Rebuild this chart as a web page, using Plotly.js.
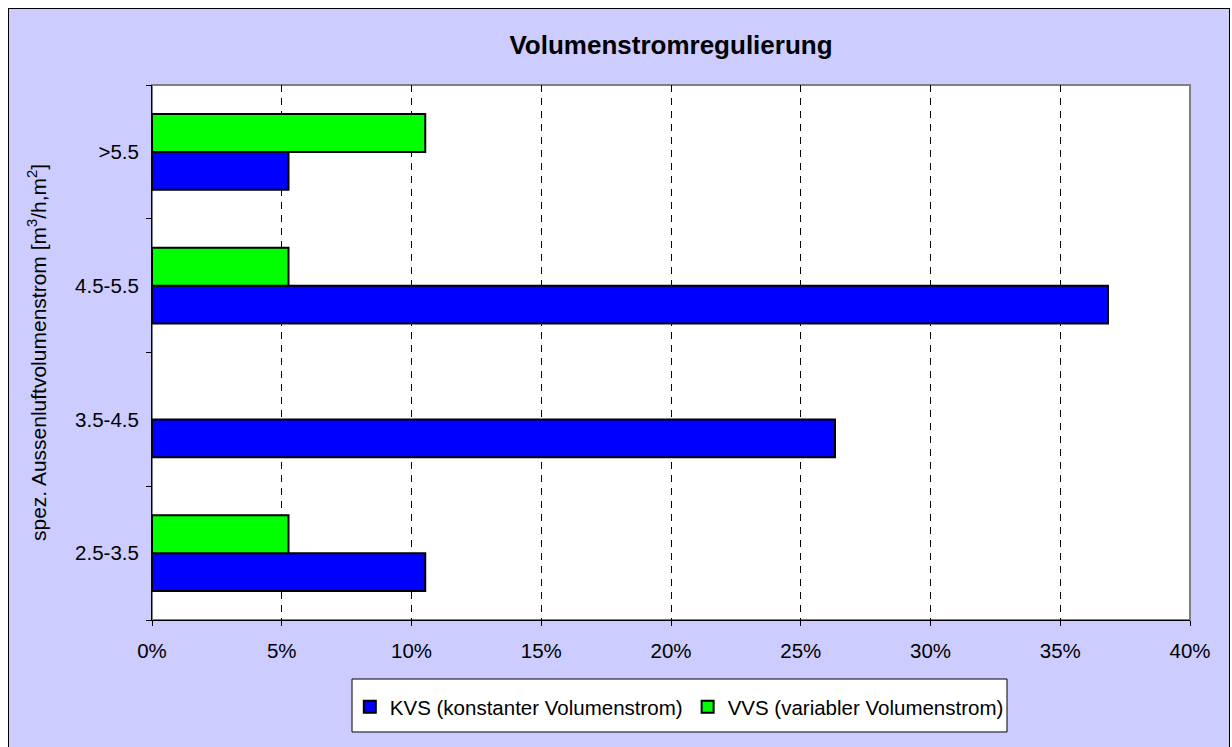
<!DOCTYPE html>
<html>
<head>
<meta charset="utf-8">
<script src="https://cdn.plot.ly/plotly-3.0.1.min.js"></script>
<style>
  html, body { margin: 0; padding: 0; background: #ffffff; overflow: hidden; }
  #frame { position: absolute; left: 8px; top: 8px; width: 1220px; height: 739px;
           border-left: 1px solid #000; border-right: 1px solid #000; border-top: 1px solid #000;
           background: #CCCCFF; }
  #chart { width: 1220px; height: 739px; }
</style>
</head>
<body>
<div id="frame"><div id="chart"></div></div>
<script>
// Data (fractions)
const categories = ['2.5-3.5', '3.5-4.5', '4.5-5.5', '>5.5'];
const kvsValues = [0.1053, 0.2632, 0.3684, 0.0526];
const vvsValues = [0.0526, null, 0.0526, 0.1053];
const xTickValues = [0, 0.05, 0.10, 0.15, 0.20, 0.25, 0.30, 0.35, 0.40];
const xTickLabels = ['0%', '5%', '10%', '15%', '20%', '25%', '30%', '35%', '40%'];
const seriesNames = ['KVS (konstanter Volumenstrom)', 'VVS (variabler Volumenstrom)'];

const FONT = 'Liberation Sans, Arial, sans-serif';
const FS = 20.5;

const traces = [
  {
    type: 'bar', orientation: 'h', name: seriesNames[0],
    y: categories, x: kvsValues,
    marker: { color: '#0000FF', line: { color: '#000000', width: 2 } },
    hoverinfo: 'x+y'
  },
  {
    type: 'bar', orientation: 'h', name: seriesNames[1],
    y: categories, x: vvsValues,
    marker: { color: '#00FF00', line: { color: '#000000', width: 2 } },
    hoverinfo: 'x+y'
  }
];

const layout = {
  width: 1220, height: 739,
  margin: { l: 143, r: 39, t: 76, b: 128 },
  paper_bgcolor: '#CCCCFF',
  plot_bgcolor: '#FFFFFF',
  font: { family: FONT, size: FS, color: '#000000' },
  title: {
    text: '<b>Volumenstromregulierung</b>',
    font: { family: FONT, size: 26, color: '#000000' },
    x: 0.5, xanchor: 'center', xref: 'paper',
    y: 0.952, yanchor: 'middle', yref: 'container'
  },
  barmode: 'group',
  bargap: 0.433,
  bargroupgap: 0,
  xaxis: {
    range: [0, 0.40],
    tickvals: xTickValues, ticktext: xTickLabels,
    showgrid: true, gridcolor: '#000000', gridwidth: 1, griddash: '7px,6px',
    zeroline: false,
    showline: true, linecolor: '#000000', linewidth: 1,
    ticks: 'outside', ticklen: 5, tickcolor: '#000000', tickwidth: 1,
    ticklabelstandoff: 7,
    tickfont: { family: FONT, size: FS, color: '#000000' },
    fixedrange: true
  },
  yaxis: {
    type: 'category',
    categoryorder: 'array', categoryarray: categories,
    showgrid: false, zeroline: false,
    showline: true, linecolor: '#000000', linewidth: 1,
    ticks: 'outside', ticklen: 5, tickcolor: '#000000', tickwidth: 1,
    tickson: 'boundaries',
    ticklabelstandoff: 8,
    tickfont: { family: FONT, size: FS, color: '#000000' },
    title: {
      text: 'spez. Aussenluftvolumenstrom [m<sup>3</sup>/h,m<sup>2</sup>]',
      font: { family: FONT, size: 21, color: '#000000' },
      standoff: 22
    },
    fixedrange: true
  },
  shapes: [
    {
      type: 'rect', xref: 'paper', yref: 'paper', x0: 0, x1: 1, y0: 0, y1: 1,
      line: { color: '#808080', width: 2 }, fillcolor: 'rgba(0,0,0,0)', layer: 'below'
    },
    {
      type: 'rect', xref: 'paper', yref: 'paper',
      x0: 0.1927, x1: 0.8237, y0: -0.2093, y1: -0.1103,
      line: { color: '#000000', width: 1 }, fillcolor: '#FFFFFF', layer: 'below'
    }
  ],
  showlegend: true,
  legend: {
    orientation: 'h', traceorder: 'normal',
    x: 0.508, xanchor: 'center',
    y: -0.1626, yanchor: 'middle',
    bgcolor: 'rgba(0,0,0,0)', borderwidth: 0,
    font: { family: FONT, size: FS, color: '#000000' }
  }
};

Plotly.newPlot('chart', traces, layout, { displayModeBar: false, staticPlot: true });
</script>
</body>
</html>
